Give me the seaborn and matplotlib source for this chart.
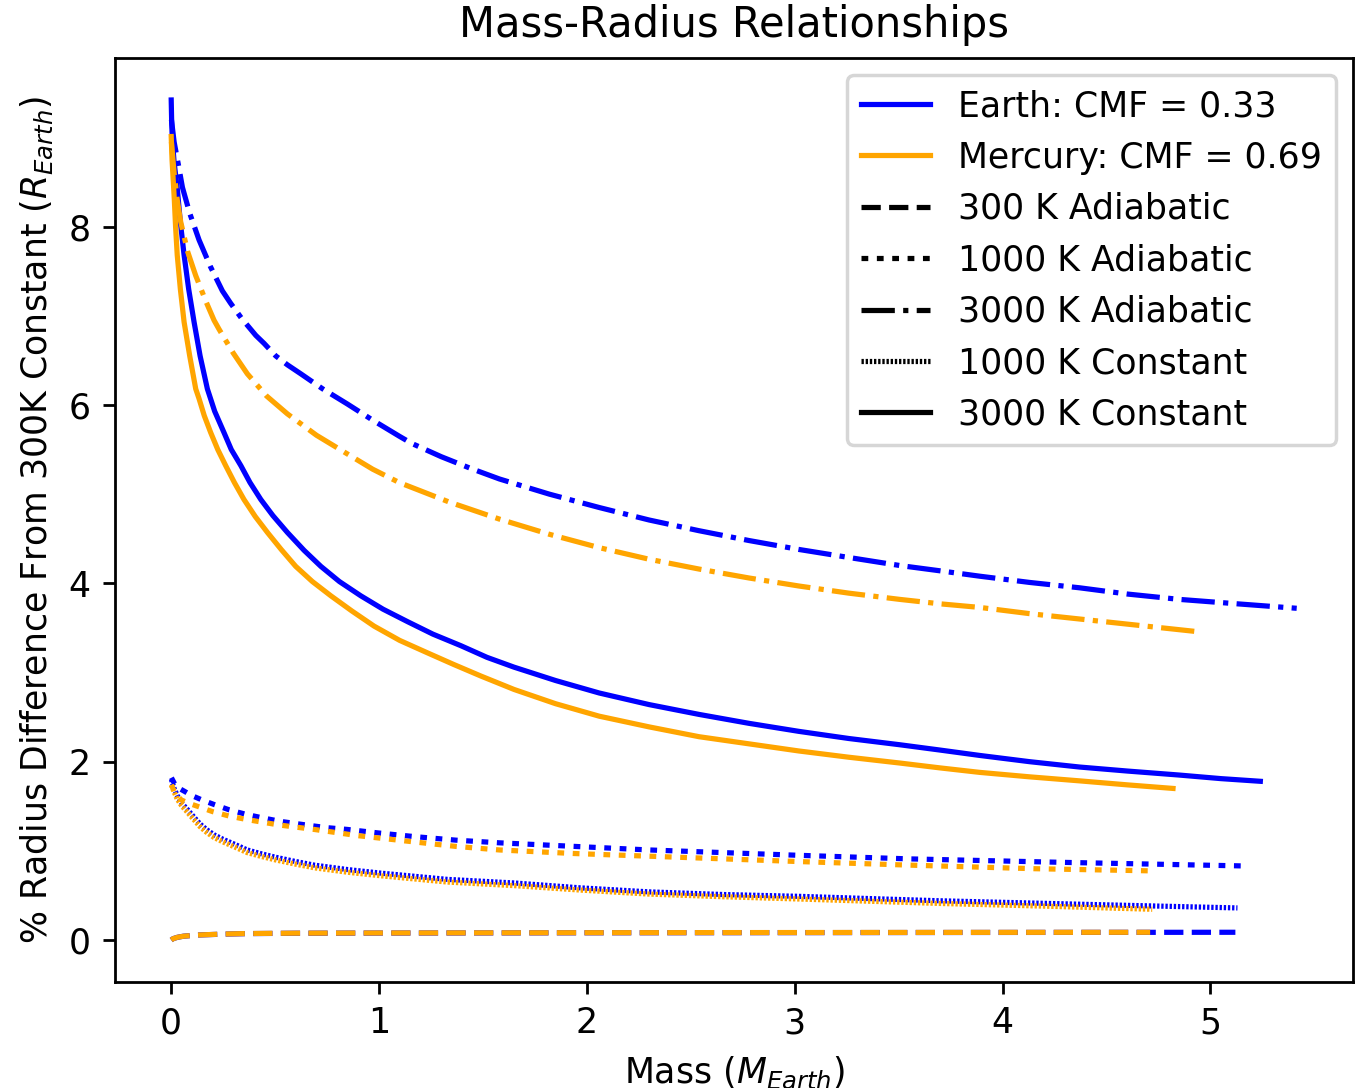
import matplotlib
matplotlib.use("Agg")
import matplotlib.pyplot as plt
from matplotlib.lines import Line2D
import seaborn as sns

# Earth (CMF = 0.33) curves: mass in Earth masses, % radius difference
earth_300a_m = [0.001, 0.01, 0.03, 0.06, 0.127, 0.25, 0.37, 0.6, 1.0, 2.0, 3.0, 4.0, 5.12]
earth_300a_r = [0.0, 0.015, 0.03, 0.043, 0.056, 0.066, 0.072, 0.076, 0.078, 0.081, 0.083, 0.085, 0.087]

earth_1000a_m = [0.002, 0.02, 0.04, 0.063, 0.1, 0.15, 0.207, 0.28, 0.36, 0.44, 0.528, 0.65,
                 0.75, 0.849, 1.0, 1.17, 1.37, 1.58, 1.94, 2.30, 2.66, 3.02, 3.55, 3.93,
                 4.31, 4.75, 5.175]
earth_1000a_r = [1.82, 1.74, 1.70, 1.67, 1.62, 1.57, 1.52, 1.46, 1.41, 1.37, 1.33, 1.29,
                 1.26, 1.24, 1.20, 1.16, 1.12, 1.09, 1.05, 1.01, 0.98, 0.95, 0.91, 0.89,
                 0.87, 0.85, 0.83]

earth_3000a_m = [0.002, 0.015, 0.035, 0.055, 0.09, 0.135, 0.19, 0.247, 0.287, 0.34, 0.408,
                 0.448, 0.504, 0.56, 0.624, 0.73, 0.849, 0.97, 1.098, 1.157, 1.3, 1.44, 1.58,
                 1.82, 2.06, 2.3, 2.54, 2.78, 3.02, 3.26, 3.505, 3.7, 3.89, 4.13, 4.37, 4.6,
                 4.85, 5.13, 5.415]
earth_3000a_r = [9.2, 8.95, 8.7, 8.44, 8.15, 7.85, 7.55, 7.28, 7.14, 6.97, 6.78,
                 6.69, 6.55, 6.45, 6.35, 6.18, 6.01, 5.83, 5.65, 5.57, 5.42, 5.29, 5.17,
                 5.0, 4.85, 4.71, 4.59, 4.48, 4.38, 4.29, 4.20, 4.14, 4.08, 4.01, 3.95, 3.88,
                 3.82, 3.77, 3.72]

earth_1000c_m = [0.002, 0.015, 0.03, 0.05, 0.08, 0.11, 0.14, 0.17, 0.207, 0.25, 0.3, 0.367,
                 0.43, 0.5, 0.59, 0.689, 0.85, 1.01, 1.17, 1.33, 1.49, 1.65, 1.97, 2.30,
                 2.66, 3.02, 3.36, 3.70, 4.05, 4.4, 4.76, 5.13]
earth_1000c_r = [1.80, 1.70, 1.62, 1.54, 1.46, 1.38, 1.30, 1.24, 1.18, 1.13, 1.08, 1.01,
                 0.97, 0.93, 0.885, 0.84, 0.79, 0.75, 0.715, 0.68, 0.66, 0.64, 0.585, 0.54,
                 0.51, 0.49, 0.465, 0.44, 0.42, 0.40, 0.38, 0.36]

earth_3000c_m = [0.001, 0.003, 0.006, 0.015, 0.03, 0.045, 0.063, 0.085, 0.111, 0.14, 0.175,
                 0.21, 0.255, 0.29, 0.336, 0.38, 0.432, 0.49, 0.56, 0.64, 0.721, 0.81,
                 0.913, 1.02, 1.138, 1.26, 1.395, 1.52, 1.65, 1.85, 2.06, 2.3, 2.54, 2.78,
                 3.02, 3.26, 3.505, 3.7, 3.89, 4.13, 4.37, 4.6, 4.85, 5.05, 5.24]
earth_3000c_r = [9.42, 9.2, 8.99, 8.72, 8.43, 8.05, 7.68, 7.3, 6.93, 6.55, 6.18,
                 5.93, 5.69, 5.5, 5.32, 5.13, 4.94, 4.76, 4.57, 4.37, 4.19, 4.02,
                 3.86, 3.71, 3.57, 3.43, 3.30, 3.17, 3.06, 2.91, 2.77, 2.64, 2.53, 2.43,
                 2.34, 2.26, 2.19, 2.13, 2.07, 2.00, 1.94, 1.895, 1.85, 1.81, 1.78]

# Mercury (CMF = 0.69) curves
merc_300a_m = [0.001, 0.01, 0.03, 0.06, 0.127, 0.25, 0.37, 0.6, 1.0, 2.0, 3.0, 4.0, 4.71]
merc_300a_r = [0.0, 0.015, 0.03, 0.043, 0.056, 0.067, 0.073, 0.077, 0.079, 0.082, 0.084, 0.086, 0.087]

merc_1000a_m = [0.002, 0.02, 0.05, 0.09, 0.127, 0.2, 0.28, 0.367, 0.52, 0.689, 0.9, 1.17,
                1.37, 1.58, 1.94, 2.30, 2.66, 3.02, 3.55, 4.15, 4.73]
merc_1000a_r = [1.74, 1.64, 1.57, 1.53, 1.50, 1.44, 1.39, 1.35, 1.29, 1.24, 1.17, 1.10,
                1.05, 1.01, 0.97, 0.94, 0.91, 0.88, 0.84, 0.80, 0.775]

merc_3000a_m = [0.002, 0.015, 0.03, 0.047, 0.08, 0.119, 0.17, 0.207, 0.231, 0.3, 0.367,
                0.46, 0.56, 0.7, 0.849, 0.97, 1.098, 1.34, 1.58, 1.82, 2.06, 2.3, 2.54,
                2.78, 3.02, 3.26, 3.505, 3.7, 3.89, 4.13, 4.37, 4.65, 4.93]
merc_3000a_r = [8.95, 8.6, 8.3, 8.05, 7.72, 7.45, 7.15, 6.95, 6.85, 6.58, 6.35,
                6.1, 5.90, 5.66, 5.45, 5.28, 5.13, 4.91, 4.72, 4.55, 4.40, 4.27, 4.16,
                4.06, 3.97, 3.89, 3.82, 3.77, 3.73, 3.66, 3.60, 3.53, 3.46]

merc_1000c_m = [0.002, 0.015, 0.03, 0.05, 0.08, 0.11, 0.14, 0.17, 0.207, 0.25, 0.3, 0.367,
                0.43, 0.5, 0.59, 0.689, 0.85, 1.01, 1.17, 1.33, 1.49, 1.65, 1.97, 2.30,
                2.66, 3.02, 3.36, 3.70, 4.2, 4.72]
merc_1000c_r = [1.74, 1.66, 1.58, 1.51, 1.43, 1.35, 1.27, 1.21, 1.15, 1.10, 1.05, 0.98,
                0.94, 0.90, 0.855, 0.81, 0.76, 0.72, 0.685, 0.65, 0.63, 0.61, 0.56, 0.515,
                0.485, 0.46, 0.435, 0.41, 0.38, 0.345]

merc_3000c_m = [0.001, 0.005, 0.01, 0.016, 0.022, 0.03, 0.045, 0.063, 0.09, 0.119, 0.135,
                0.16, 0.191, 0.225, 0.263, 0.305, 0.351, 0.405, 0.464, 0.53, 0.60, 0.68,
                0.769, 0.87, 0.977, 1.10, 1.234, 1.36, 1.491, 1.65, 1.85, 2.06, 2.3, 2.54,
                2.78, 3.02, 3.26, 3.505, 3.7, 3.89, 4.13, 4.37, 4.6, 4.82]
merc_3000c_r = [9.01, 8.75, 8.55, 8.3, 8.0, 7.68, 7.3, 6.93, 6.55, 6.18, 6.07,
                5.88, 5.69, 5.5, 5.32, 5.13, 4.94, 4.75, 4.57, 4.38, 4.19, 4.02,
                3.86, 3.69, 3.52, 3.36, 3.22, 3.09, 2.96, 2.81, 2.65, 2.51, 2.39, 2.28,
                2.2, 2.12, 2.05, 1.985, 1.93, 1.88, 1.83, 1.785, 1.74, 1.70]

planet_labels = ["Earth: CMF = 0.33", "Mercury: CMF = 0.69"]
profile_labels = ["300 K Adiabatic", "1000 K Adiabatic", "3000 K Adiabatic",
                  "1000 K Constant", "3000 K Constant"]

EARTH_COLOR = "blue"
MERC_COLOR = "orange"
ROUND_DOTS = (0, (1.3, 1.65))
DENSE_DOTS = (0, (0.45, 0.35))
profile_styles = ["--", ROUND_DOTS, "-.", DENSE_DOTS, "-"]

fig = plt.figure(figsize=(5.46, 4.352), dpi=250)
ax = fig.add_axes([0.0842, 0.0974, 0.907, 0.8493])

earth_curves = [(earth_300a_m, earth_300a_r), (earth_1000a_m, earth_1000a_r),
                (earth_3000a_m, earth_3000a_r), (earth_1000c_m, earth_1000c_r),
                (earth_3000c_m, earth_3000c_r)]
merc_curves = [(merc_300a_m, merc_300a_r), (merc_1000a_m, merc_1000a_r),
               (merc_3000a_m, merc_3000a_r), (merc_1000c_m, merc_1000c_r),
               (merc_3000c_m, merc_3000c_r)]

for color, curves in [(EARTH_COLOR, earth_curves), (MERC_COLOR, merc_curves)]:
    for (m, r), ls in zip(curves, profile_styles):
        sns.lineplot(x=m, y=r, ax=ax, color=color, linestyle=ls, linewidth=1.5,
                     estimator=None, errorbar=None, sort=False)

handles = [Line2D([], [], color=EARTH_COLOR, lw=1.5),
           Line2D([], [], color=MERC_COLOR, lw=1.5)]
handles += [Line2D([], [], color="black", lw=1.5, linestyle=ls) for ls in profile_styles]
ax.legend(handles, planet_labels + profile_labels, loc="upper right", fontsize=10)

ax.set_title("Mass-Radius Relationships", fontsize=12)
ax.set_xlabel("Mass ($M_{Earth}$)", fontsize=10)
ax.set_ylabel("% Radius Difference From 300K Constant ($R_{Earth}$)", fontsize=10)
ax.set_xticks([0, 1, 2, 3, 4, 5])
ax.set_yticks([0, 2, 4, 6, 8])
ax.tick_params(labelsize=10)

fig.savefig("out.png", dpi=250)
